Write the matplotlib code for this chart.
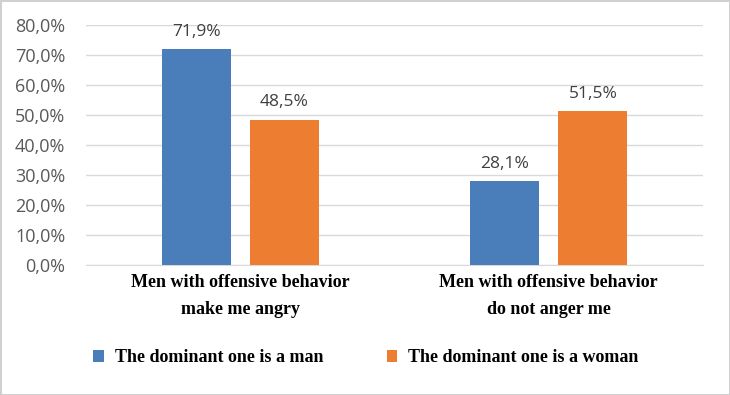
import matplotlib
matplotlib.use("Agg")
import matplotlib.pyplot as plt
import numpy as np

# ---------------------------------------------------------------------------
# Data
# ---------------------------------------------------------------------------
categories = ["Men with offensive behavior\nmake me angry",
              "Men with offensive behavior\ndo not anger me"]
series_names = ["The dominant one is a man", "The dominant one is a woman"]
man_vals = [71.9, 28.1]
woman_vals = [48.5, 51.5]
yticks = [0, 10, 20, 30, 40, 50, 60, 70, 80]

C_MAN = "#4a7ebb"
C_WOMAN = "#ed7d31"
C_TXT = "#595959"

fig = plt.figure(figsize=(7.3, 3.95), dpi=100)
ax = fig.add_axes([86 / 730, 1 - 265 / 395, 617 / 730, 240 / 395])

x = np.arange(len(categories))
w = 0.224
off = 0.143
b1 = ax.bar(x - off, man_vals, w, color=C_MAN, label=series_names[0], zorder=3)
b2 = ax.bar(x + off, woman_vals, w, color=C_WOMAN, label=series_names[1], zorder=3)

for bars, vals in ((b1, man_vals), (b2, woman_vals)):
    for b, v in zip(bars, vals):
        ax.text(b.get_x() + b.get_width() / 2, v + 3.0, f"{v:.1f}%".replace(".", ","),
                ha="center", va="bottom", fontsize=12.5, color="#404040",
                family="Open Sans")

ax.set_xlim(-0.5, 1.5)
ax.set_ylim(0, 80)
ax.set_yticks(yticks)
ax.set_yticklabels([f"{t:.1f}%".replace(".", ",") for t in yticks],
                   fontsize=13, color=C_TXT, family="Open Sans")
ax.tick_params(axis="y", length=0, pad=15)
ax.set_xticks([])
ax.grid(axis="y", color="#d9d9d9", linewidth=1, zorder=0)
for s in ("top", "right", "left"):
    ax.spines[s].set_visible(False)
ax.spines["bottom"].set_color("#d9d9d9")

for xi, cat in zip(x, categories):
    ax.text(xi, -3.0, cat, ha="center", va="top", fontsize=13,
            family="Liberation Serif", fontweight="bold", color="black",
            linespacing=1.8, transform=ax.transData)

leg = fig.legend(handles=[b1, b2], labels=series_names, loc="center left",
                 bbox_to_anchor=(77 / 730, 1 - 358 / 395), ncol=2, frameon=False,
                 prop={"family": "Liberation Serif", "weight": "bold", "size": 13},
                 handlelength=0.6, handleheight=0.6, handletextpad=0.6,
                 columnspacing=3.5)

fig.patch.set_edgecolor("#d0d0d0")
fig.patch.set_linewidth(2)

fig.savefig("out.png", dpi=100)
